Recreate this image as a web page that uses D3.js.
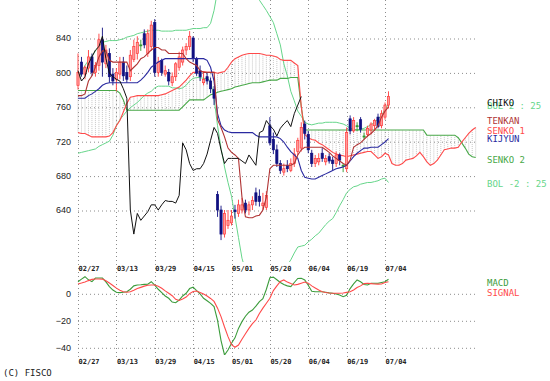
<!DOCTYPE html>
<html><head><meta charset="utf-8">
<script src="https://cdn.jsdelivr.net/npm/d3@7"></script>
<style>body{margin:0;background:#fff}svg{display:block}</style>
</head><body>
<svg id="c" width="550" height="381"></svg>
<script>
// ---- data ----
const tickLabels = ["02/27","03/13","03/29","04/15","05/01","05/20","06/04","06/19","07/04"];
const tickBars = [0,11,22,33,44,55,66,77,88];
const priceTicks = [640,680,720,760,800,840];
const macdTicks = [0,-20,-40];

const opens = [785,812,798,805,818,800,808,838,810,822, 798,792,798,812,800,795,815,822,832,845,
 822,830,858,800,814,798,800,788,795,806, 812,826,830,840,815,802,788,795,790,780,
 658,640,612,622,625,640,636,640,648,640, 646,660,656,645,643,738,722,710,694,684,
 692,686,694,708,712,740,728,706,694,696, 706,696,702,698,694,704,692,688,746,732,
 738,745,726,728,733,738,748,738,748,762];
const highs = [822,818,808,826,822,812,845,852,832,828, 805,805,818,818,808,826,838,842,838,850,
 850,860,862,818,816,808,804,800,812,824, 830,834,848,842,818,808,800,800,794,784,
 662,645,640,640,640,646,652,654,652,650, 656,666,664,660,662,748,730,716,698,694,
 698,700,712,724,742,744,732,710,704,706, 712,704,706,702,708,706,694,736,750,748,
 742,748,730,738,742,746,752,756,765,778];
const lows = [780,795,792,800,796,795,802,795,805,788, 785,778,792,790,788,790,812,815,825,828,
 818,825,795,795,796,795,785,784,790,802, 808,820,826,812,796,790,785,786,776,762,
 632,605,608,618,622,630,632,636,636,634, 640,645,644,640,640,715,705,690,682,680,
 684,684,690,704,708,722,706,690,690,692, 696,692,694,686,690,692,684,684,728,730,
 732,730,722,725,728,732,735,735,745,758];
const closes = [800,798,806,818,800,808,838,812,826,795, 790,800,812,796,792,820,830,835,832,832,
 845,855,800,812,800,802,790,795,810,818, 826,830,842,816,799,795,792,790,781,770,
 640,612,636,628,633,638,646,646,640,646, 651,650,650,648,657,718,710,694,686,688,
 688,694,705,721,736,729,710,694,700,700, 700,700,697,694,704,698,692,730,732,744,
 738,734,726,735,740,744,737,752,762,772];

const tenkan = [773,773,775,790,796,806,818,825,825,814, 812,812,812,812,812,802,806,810,816,818,
 822,826,829,829,826,826,822,822,822,822, 822,816,812,810,808,802,800,800,800,800,
 745,736,725,712,707,704,700,655,632,631, 631,633,634,640,655,688,692,692,692,692,
 692,692,694,704,710,713,713,713,713,713, 713,710,707,703,700,697,694,692,698,713,
 716,718,722,726,729,733,738,748,755,760];
const kijun = [770,770,770,773,775,778,781,785,787,788, 788,788,788,788,788,788,788,788,791,795,
 800,806,809,812,814,816,816,816,816,816, 816,816,816,816,816,816,816,814,806,790,
 752,738,733,731,730,730,730,730,730,730, 730,727,725,725,725,725,725,725,723,719,
 713,708,704,700,686,678,677,676,676,678, 680,682,684,686,688,689,690,692,697,702,
 706,709,712,712,713,713,713,716,719,723];
const senko1 = [730,729,729,727,725,725,725,725,725,726, 730,738,744,754,764,771,772,773,773,773,
 773,773,773,773,774,775,777,779,781,783, 787,791,796,800,800,801,801,800,800,800,
 799,800,801,806,812,816,818,820,821,822, 822,822,822,821,820,820,819,818,815,814,
 814,814,811,808,760,728,724,722,721,718, 716,713,710,707,705,704,703,702,703,704,
 705,706,707,708,708,704,700,702,706,704, 694,692,692,694,698,699,700,703,707,702,
 696,692,694,698,704,710,711,712,712,713, 719,724,729,733,736];
const senko2 = [779,779,779,779,779,779,779,779,779,779, 779,779,776,768,756,756,756,756,756,756,
 756,756,756,756,756,756,756,756,756,756, 760,764,768,768,768,768,768,771,774,775,
 777,778,779,780,781,783,784,785,786,787, 788,788,788,789,790,791,791,791,793,793,
 793,794,794,794,760,733,733,733,733,733, 733,733,733,733,733,733,733,733,733,733,
 733,733,733,733,733,733,733,733,733,733, 733,733,733,733,733,733,733,733,733,733,
 727,727,727,727,727,727,727,727,727,724, 718,712,705,702,701];
const bolUp = [791,800,808,814,819,825,830,835,836,837, 837,837,838,839,841,842,843,845,846,847,
 848,849,849,849,848,848,848,848,849,849, 849,849,850,851,851,851,852,852,857,872,
 895,912,925,930,932,930,926,920,912,905, 898,891,884,878,872,865,858,845,832,810,
 796,778,767,755,749,742,740,739,740,741, 741,742,742,742,742,741,740,738,735,734,
 733,734,735,737,739,742,746,750,757,763];
const bolLo = [706,707,708,709,710,711,714,716,718,720, 727,738,745,750,755,759,762,765,769,773,
 776,778,782,784,784,784,784,782,782,781, 782,785,790,793,794,794,793,793,790,770,
 738,712,690,672,656,632,608,584,570,560, 555,552,550,552,556,560,562,565,568,572,
 576,582,590,597,598,599,603,606,610,613, 618,623,627,630,637,645,652,660,664,667,
 668,670,671,672,672,673,674,676,677,672];
const macd = [8.6,10.5,12.3,10,8.6,11.3,11.3,11.3,8.5,5, 2.4,0.8,0.5,0.8,1.2,3,5.5,6.1,6.3,6.6,
 6.7,8.6,6,3,0.5,-2,-3.7,-6.5,-7,-5, -2,0,3.5,4.5,2,-0.5,-3.7,-5.5,-7.5,-9.9,
 -20,-35,-45.7,-42,-37,-33,-26,-21,-17,-14, -12.4,-9.5,-6.2,-4,3,11.5,12,10,8,6.5,
 5.5,5,8,11,11.1,9.9,6,1.5,1.2,1.2, 1.2,0.8,0.3,0,-0.5,-1.2,-2.5,-1.5,3.5,7,
 9.9,8.5,6.5,6.2,7.4,7.4,7.4,8,8.6,10.4];
const signal = [6.9,7.6,8.4,9.4,10.3,10.6,10.6,10.5,9.3,7.6, 5.8,3.8,2.2,1.1,0.8,1.2,2.3,3.5,4.4,5.3,
 6,6.1,6.1,5.2,3.7,1.8,0,-1.8,-4.5,-5.3, -4.2,-2.8,-0.2,1.3,1.7,0.6,-0.6,-2,-3.8,-6,
 -11,-17.3,-25,-32.1,-38,-40,-38.3,-34,-30,-26, -22.5,-19.8,-15,-11,-7.4,-3.7,2,5.5,8.8,9.9,
 8.3,7.2,6.2,6.6,7.5,8.4,7.5,5.5,4,2.5, 1.2,0.6,0.2,0,0,0,0.2,0.7,1.2,2.5,
 4.3,5.5,7.2,7.4,7.2,6.9,6.8,6.9,8,8.6];
const chikoShift = 25;

// ---- chart ----
const svg = d3.select('#c');
const plotL = 78, plotR = 478;
const x = d3.scaleLinear().domain([0, 88]).range([78, 385]);
const y = d3.scaleLinear().domain([640, 840]).range([210, 38]);
const ym = d3.scaleLinear().domain([0, -40]).range([293.3, 347.3]);
const GRID = '#8c8c8c';

const defs = svg.append('defs');
defs.append('clipPath').attr('id','cm').append('rect').attr('x',70).attr('y',0).attr('width',410).attr('height',262);
defs.append('clipPath').attr('id','cd').append('rect').attr('x',70).attr('y',270).attr('width',410).attr('height',85);

// vertical grid
svg.append('g').selectAll('line').data(tickBars).join('line')
  .attr('x1', d => Math.round(x(d)) + 0.5).attr('x2', d => Math.round(x(d)) + 0.5)
  .attr('y1', 0).attr('y2', 357)
  .attr('stroke', GRID).attr('stroke-dasharray', '1,3');

// horizontal grid main + macd via axes
const gGridM = svg.append('g').attr('transform', `translate(${plotL},0)`)
  .call(d3.axisLeft(y).tickValues(priceTicks).tickSize(-(plotR - plotL)).tickFormat(''));
const gGridD = svg.append('g').attr('transform', `translate(${plotL},0)`)
  .call(d3.axisLeft(ym).tickValues(macdTicks).tickSize(-(plotR - plotL)).tickFormat(''));
[gGridM, gGridD].forEach(g => {
  g.select('.domain').remove();
  g.selectAll('line').attr('stroke', GRID).attr('stroke-dasharray', '1,3')
   .attr('transform', 'translate(0,0.5)');
});

// y labels
const gY = svg.append('g').attr('transform', 'translate(71,0)')
  .call(d3.axisLeft(y).tickValues(priceTicks).tickSize(0).tickPadding(0));
const gYm = svg.append('g').attr('transform', 'translate(71,0)')
  .call(d3.axisLeft(ym).tickValues(macdTicks).tickSize(0).tickPadding(0));
[gY, gYm].forEach(g => {
  g.select('.domain').remove();
  g.selectAll('text').attr('font-family', '"Liberation Sans", Arial, sans-serif')
   .attr('font-size', 9).attr('fill', '#222');
});

// date labels
function dateAxis(yPos) {
  const g = svg.append('g').attr('transform', `translate(0,${yPos})`)
    .call(d3.axisBottom(x).tickValues(tickBars).tickSize(0).tickPadding(0)
      .tickFormat((d, i) => tickLabels[i]));
  g.select('.domain').remove();
  g.selectAll('text').attr('text-anchor', 'start').attr('dy', '0.32em').attr('y', 0)
    .attr('font-family', '"DejaVu Sans Mono", monospace').attr('font-weight', 'bold')
    .attr('font-size', 7).attr('fill', '#222');
}
dateAxis(269);
dateAxis(362);

// ---- main panel ----
const main = svg.append('g').attr('clip-path', 'url(#cm)');
const idx = d3.range(senko1.length);

// cloud hatch
main.append('g').selectAll('line').data(idx).join('line')
  .attr('x1', i => x(i)).attr('x2', i => x(i))
  .attr('y1', i => y(senko1[i])).attr('y2', i => y(senko2[i]))
  .attr('stroke', '#b8b8b8').attr('stroke-width', 0.8).attr('stroke-dasharray', '1,1');

const line = (arr, sc) => d3.line().x((d, i) => x(i)).y(d => sc(d))(arr);
function path(g, arr, sc, color, w) {
  g.append('path').attr('d', line(arr, sc)).attr('fill', 'none')
    .attr('stroke', color).attr('stroke-width', w || 1);
}
path(main, bolUp, y, '#66d68a');
path(main, bolLo, y, '#66d68a');
path(main, senko2, y, '#48a848', 1.1);
path(main, senko1, y, '#ff4a4a', 1.1);

// candles
const bars = d3.range(closes.length);
const cColor = i => closes[i] > opens[i] ? '#ff3a3a' : (closes[i] < opens[i] ? '#101080' : '#2e9a2e');
const cg = main.append('g');
cg.selectAll('line').data(bars).join('line')
  .attr('x1', i => x(i)).attr('x2', i => x(i))
  .attr('y1', i => y(highs[i])).attr('y2', i => y(lows[i]))
  .attr('stroke', cColor).attr('stroke-width', 0.9);
cg.selectAll('rect').data(bars).join('rect')
  .attr('x', i => x(i) - 1.1).attr('width', 2.2)
  .attr('y', i => y(Math.max(opens[i], closes[i])))
  .attr('height', i => Math.max(1, Math.abs(y(opens[i]) - y(closes[i]))))
  .attr('fill', i => closes[i] > opens[i] ? '#ff9c9c' : cColor(i))
  .attr('stroke', cColor).attr('stroke-width', 0.7);

path(main, kijun, y, '#2a2aa0', 1.1);
path(main, tenkan, y, '#b03434', 1.1);
// chiko: closes drawn shifted back
main.append('path')
  .attr('d', d3.line().x((d, i) => x(i)).y(d => y(d))(closes.slice(chikoShift)))
  .attr('fill', 'none').attr('stroke', '#111').attr('stroke-width', 1);

// ---- macd panel ----
const low = svg.append('g').attr('clip-path', 'url(#cd)');
path(low, macd, ym, '#3c9c3c', 1.1);
path(low, signal, ym, '#ff4a4a', 1.1);

// ---- legend ----
const legend = [
  ['BOL 2 : 25', '#66d68a', 106],
  ['CHIKO', '#111', 103],
  ['TENKAN', '#b03434', 121],
  ['SENKO 1', '#ff4a4a', 130.5],
  ['KIJYUN', '#2a2aa0', 139],
  ['SENKO 2', '#48a848', 159.5],
  ['BOL -2 : 25', '#66d68a', 184],
  ['MACD', '#3c9c3c', 282.5],
  ['SIGNAL', '#ff4a4a', 292.5]
];
svg.append('g').selectAll('text').data(legend).join('text')
  .attr('x', 487).attr('y', d => d[2]).attr('dy', '0.36em')
  .attr('fill', d => d[1]).attr('font-family', '"DejaVu Sans Mono", monospace')
  .attr('font-size', 9).text(d => d[0]);

svg.append('text').attr('x', 3).attr('y', 373).attr('dy', '0.36em')
  .attr('font-family', '"DejaVu Sans Mono", monospace').attr('font-size', 9)
  .attr('fill', '#222').text('(C) FISCO');
</script>
</body></html>
